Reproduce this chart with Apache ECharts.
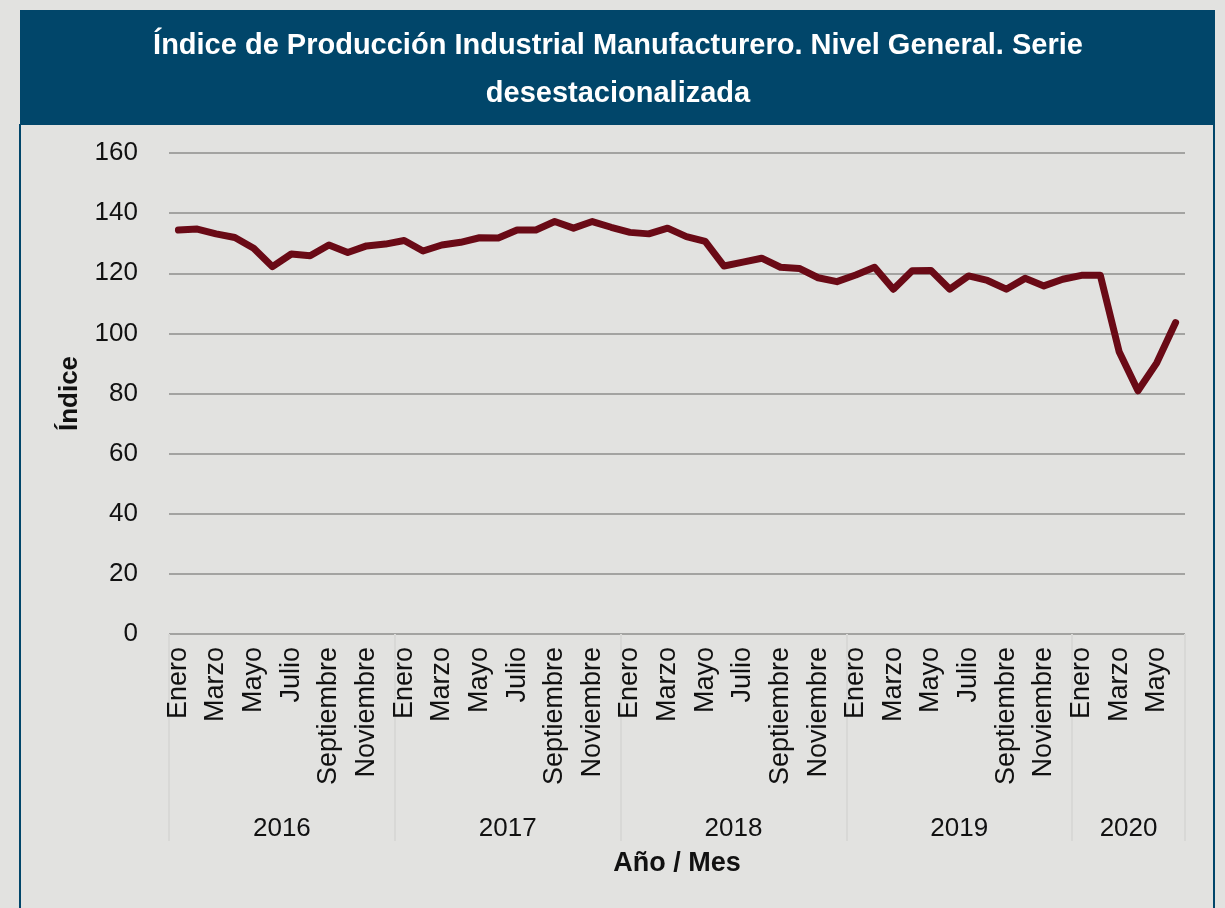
<!DOCTYPE html>
<html>
<head>
<meta charset="utf-8">
<title>Índice de Producción Industrial Manufacturero</title>
<script src="https://cdn.jsdelivr.net/npm/echarts@6/dist/echarts.min.js"></script>
<style>
  html, body { margin: 0; padding: 0; background: #e2e2e0; }
  #chart { width: 1225px; height: 908px; }
</style>
</head>
<body>
<div id="chart"></div>
<script>
// datos
var monthNames = ['Enero', 'Febrero', 'Marzo', 'Abril', 'Mayo', 'Junio', 'Julio', 'Agosto', 'Septiembre', 'Octubre', 'Noviembre', 'Diciembre']
var years = ['2016', '2017', '2018', '2019', '2020']
var monthsPerYear = [12, 12, 12, 12, 6]
var yTicks = { min: 0, max: 160, interval: 20 }

var values2016 = [134.4, 134.7, 133.1, 131.9, 128.3, 122.2, 126.4, 125.8, 129.4, 126.9, 129.1, 129.7]
var values2017 = [130.9, 127.4, 129.4, 130.3, 131.8, 131.7, 134.4, 134.4, 137.2, 135.0, 137.2, 135.3]
var values2018 = [133.6, 133.1, 135.0, 132.2, 130.6, 122.4, 123.7, 125.0, 122.0, 121.6, 118.5, 117.2]
var values2019 = [119.4, 122.0, 114.7, 120.8, 120.9, 114.7, 119.1, 117.6, 114.7, 118.3, 115.8, 118.0]
var values2020 = [119.3, 119.3, 93.9, 80.9, 90.2, 103.6]

var FONT = "'Liberation Sans', Arial, Helvetica, sans-serif"
var BLUE = '#01466a'

// categorias mes / año
var monthCats = []
var yearCats = []
var yearCenters = {}
var start = 0
years.forEach(function (y, i) {
  for (var m = 0; m < monthsPerYear[i]; m++) {
    monthCats.push(monthNames[m])
    yearCats.push(y)
  }
  yearCenters[start + monthsPerYear[i] / 2] = y
  start += monthsPerYear[i]
})
var values = [].concat(values2016, values2017, values2018, values2019, values2020)

var chart = echarts.init(document.getElementById('chart'))
var option = {
  backgroundColor: '#e2e2e0',
  animation: false,
  textStyle: { fontFamily: FONT },
  title: {
    text: 'Índice de Producción Industrial Manufacturero. Nivel General. Serie\ndesestacionalizada',
    left: 618,
    textAlign: 'center',
    top: 22,
    padding: 0,
    textStyle: {
      color: '#ffffff',
      fontSize: 29,
      fontWeight: 'bold',
      fontFamily: FONT,
      lineHeight: 48
    }
  },
  graphic: [
    { type: 'rect', z: -1, shape: { x: 20, y: 10, width: 1195, height: 115 }, style: { fill: BLUE } },
    { type: 'rect', z: -1, shape: { x: 19, y: 124, width: 2, height: 790 }, style: { fill: BLUE } },
    { type: 'rect', z: -1, shape: { x: 1213, y: 124, width: 2, height: 790 }, style: { fill: BLUE } }
  ],
  grid: {
    left: 169,
    right: 40,
    top: 153,
    bottom: 274,
    containLabel: false,
    outerBoundsMode: 'none'
  },
  xAxis: [
    {
      type: 'category',
      position: 'bottom',
      data: monthCats,
      boundaryGap: true,
      axisLine: { show: false },
      axisTick: { show: false },
      axisLabel: {
        interval: 1,
        rotate: 90,
        margin: 13,
        fontSize: 27,
        color: '#111111',
        fontFamily: FONT
      },
      name: 'Año / Mes',
      nameLocation: 'middle',
      nameGap: 216,
      nameTextStyle: { fontSize: 27, fontWeight: 'bold', color: '#111111', fontFamily: FONT }
    },
    {
      type: 'category',
      position: 'bottom',
      data: yearCats,
      boundaryGap: true,
      axisLine: { show: false },
      axisLabel: { show: false },
      axisTick: {
        show: true,
        length: 207,
        interval: function (index) { return index % 12 === 0 },
        lineStyle: { color: '#d8d8d6', width: 2 }
      },
      splitLine: { show: false }
    },
    {
      type: 'value',
      position: 'bottom',
      min: 0,
      max: start,
      interval: 3,
      axisLine: { show: false },
      axisTick: { show: false },
      splitLine: { show: false },
      axisLabel: {
        margin: 182,
        fontSize: 26,
        color: '#111111',
        fontFamily: FONT,
        formatter: function (v) { return yearCenters[v] || '' }
      }
    }
  ],
  yAxis: {
    type: 'value',
    min: yTicks.min,
    max: yTicks.max,
    interval: yTicks.interval,
    axisLine: { show: false },
    axisTick: { show: false },
    axisLabel: { fontSize: 26, color: '#111111', margin: 31, fontFamily: FONT },
    splitLine: { lineStyle: { color: '#a3a3a1', width: 2 } },
    name: 'Índice',
    nameLocation: 'middle',
    nameRotate: 90,
    nameGap: 86,
    nameTextStyle: { fontSize: 26, fontWeight: 'bold', color: '#111111', fontFamily: FONT }
  },
  series: [{
    type: 'line',
    xAxisIndex: 0,
    data: values,
    symbol: 'none',
    lineStyle: { color: '#6a0a16', width: 7, cap: 'round', join: 'round' }
  }]
}
chart.setOption(option)
</script>
</body>
</html>
